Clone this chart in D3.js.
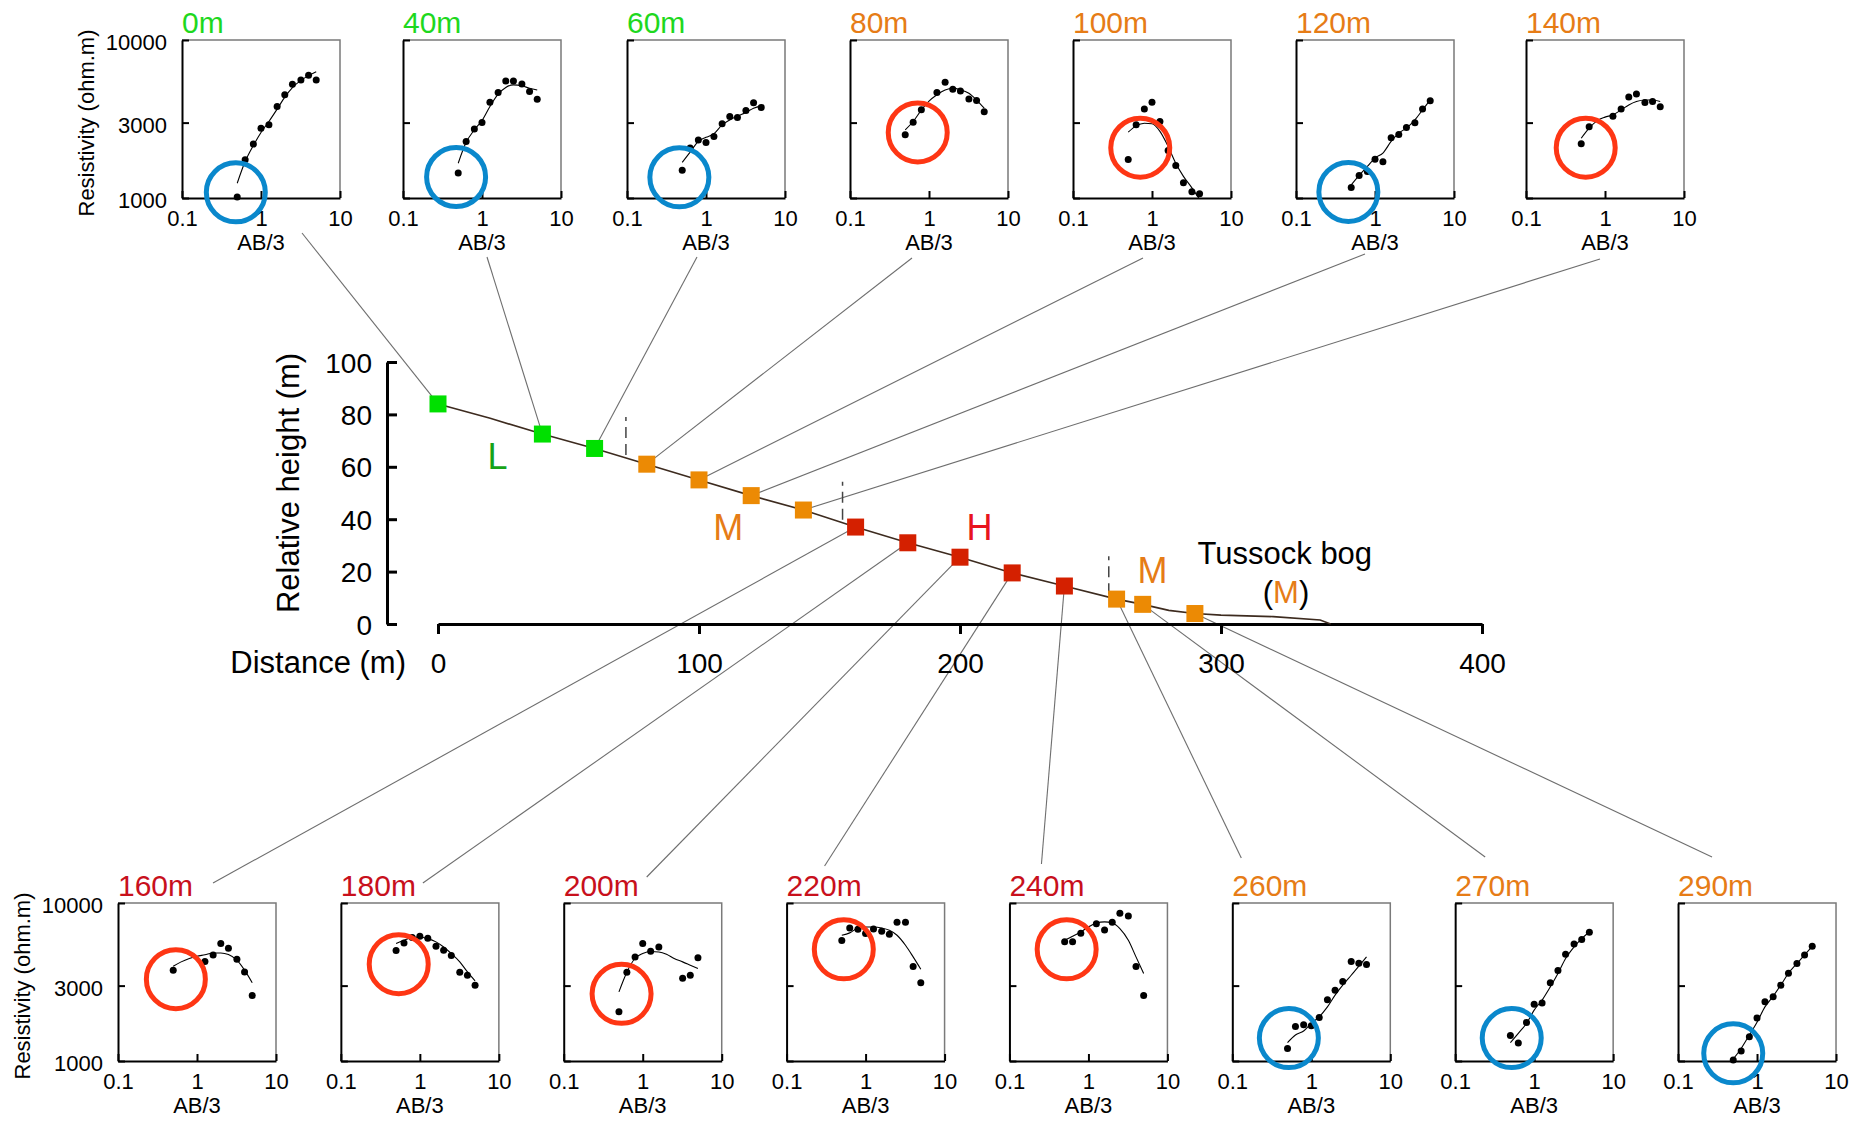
<!DOCTYPE html>
<html>
<head>
<meta charset="utf-8">
<script src="https://cdn.jsdelivr.net/npm/d3@7"></script>
<style>
  html, body { margin: 0; padding: 0; background: #fff; }
  svg { display: block; font-family: "Liberation Sans", Arial, Helvetica, sans-serif; }
</style>
</head>
<body>
<svg id="fig" width="1860" height="1121"></svg>
<script>
// ---- Survey line: stations along the slope ----
const stations = [0, 40, 60, 80, 100, 120, 140, 160, 180, 200, 220, 240, 260, 270, 290];
const surfaceHeight = [84, 72.5, 67, 61, 55, 49, 43.5, 37, 31, 25.5, 19.5, 14.5, 9.5, 7.5, 4];
const zone = ["L", "L", "L", "M", "M", "M", "M", "H", "H", "H", "H", "H", "M", "M", "M"];

// ground surface profile (distance m, relative height m)
const profileDist   = [0, 20, 40, 60, 80, 100, 120, 140, 160, 180, 200, 220, 240, 260, 270, 280, 290, 300, 320, 338, 342];
const profileHeight = [84, 78.5, 72.5, 67, 61, 55, 49, 43.5, 37, 31, 25.5, 19.5, 14.5, 9.5, 7.5, 5.2, 4, 3.4, 2.8, 1.5, 0];

// zone boundaries (distance m)
const boundaries = [72, 155, 257];

// axis ticks
const distTicks = [0, 100, 200, 300, 400];
const heightTicks = [0, 20, 40, 60, 80, 100];
const abTicks = [0.1, 1, 10];
const rhoTicks = [1000, 3000, 10000];

// ---- Vertical electrical soundings ----
// electrode half-spacing AB/3 (m)
const abSpacing = [0.5, 0.63, 0.8, 1, 1.26, 1.6, 2, 2.5, 3.2, 4, 5];

// apparent resistivity (ohm.m), observed
const obs0   = [1014, 1746, 2193, 2768, 2904, 3793, 4498, 5248, 5585, 5984, 5585];
const obs40  = [1438, 2280, 2729, 3006, 4037, 4645, 5508, 5508, 5272, 4721, 4217];
const obs60  = [1496, 2070, 2325, 2247, 2450, 2946, 3281, 3230, 3578, 4000, 3737];
const obs80  = [2512, 3020, 3614, null, 4645, 5400, 4880, 4760, 4240, 4140, 3510];
const obs100 = [1754, 2904, 3664, 4037, 3048, 2000, 1607, 1250, 1096, 1064, null];
const obs120 = [1167, 1390, 1473, 1762, 1695, 2404, 2523, 2793, 2992, 3664, 4120];
const obs140 = [2203, 2825, null, null, 3296, 3664, 4365, 4560, 4018, 4080, 3775];
const obs160 = [3758, null, null, null, 4256, 4695, 5535, 5176, 4406, 3664, 2600];
const obs180 = [5000, 5585, 6040, 6150, 5980, 5320, 5020, 4645, 3650, 3490, 3020];
const obs200 = [2050, 3650, 4560, 5535, 4950, 5270, null, null, 3342, 3490, 4498];
const obs220 = [5780, 6950, 6820, 6400, 6855, 6620, 6340, 7550, 7550, 3960, 3125];
const obs240 = [5675, 5675, 6430, null, 7400, 6750, 7550, 8610, 8280, 3960, 2600];
const obs260 = [1202, 1655, 1695, 1671, 1888, 2440, 2806, 3185, 4256, 4160, 4080];
const obs270 = [1452, 1300, 1754, 2290, 2325, 3126, 3740, 4740, 5510, 5870, 6530];
const obs290 = [1015, 1157, 1425, 1870, 2370, 2548, 3020, 3597, 4140, 4695, 5320];

// apparent resistivity (ohm.m), layered-model response
const fit0   = [1240, 1700, 2150, 2600, 3050, 3650, 4350, 5000, 5550, 5950, 6300];
const fit40  = [1660, 2250, 2700, 3090, 3790, 4540, 5010, 5200, 5130, 4950, 4830];
const fit60  = [1680, 1950, 2280, 2420, 2550, 2900, 3120, 3300, 3480, 3700, 3830];
const fit80  = [2700, 3050, 3600, 4100, 4500, 4830, 4950, 4850, 4600, 4170, 3700];
const fit100 = [2610, 2860, 2975, 2950, 2640, 2120, 1660, 1370, 1160, 980, null];
const fit120 = [1210, 1390, 1585, 1790, 1925, 2280, 2575, 2770, 3120, 3610, 4180];
const fit140 = [2390, 2770, 3090, 3250, 3360, 3610, 3880, 4080, 4170, 4170, 4080];
const fit160 = [3980, 4240, 4450, 4600, 4700, 4830, 4830, 4720, 4350, 3760, 3130];
const fit180 = [5535, 5810, 6040, 6080, 5950, 5675, 5270, 4790, 4240, 3660, 3215];
const fit200 = [2740, 3650, 4470, 4790, 4930, 4900, 4740, 4450, 4240, 4040, 3850];
const fit220 = [6250, 6470, 6950, 7050, 7050, 6950, 6720, 6250, 5400, 4560, 3810];
const fit240 = [5810, 6150, 6560, 7050, 7480, 7590, 7480, 6890, 5810, 4560, 3580];
const fit260 = [1306, 1460, 1547, 1730, 1905, 2200, 2610, 3020, 3490, 3980, 4560];
const fit270 = [1306, 1496, 1730, 2100, 2430, 2945, 3580, 4450, 5270, 5950, 6550];
const fit290 = [1030, 1200, 1460, 1760, 2200, 2570, 3020, 3590, 4140, 4700, 5320];

// near-surface response highlighted in each sounding (B = low, R = high)
const ringAB   = [0.48, 0.47, 0.46, 0.72, 0.71, 0.46, 0.57, 0.54, 0.54, 0.54, 0.53, 0.53, 0.52, 0.52, 0.50];
const ringRho  = [1086, 1358, 1351, 2600, 2080, 1092, 2080, 3296, 4100, 2660, 5090, 5090, 1397, 1397, 1118];
const ringKind = ["B", "B", "B", "R", "R", "B", "R", "R", "R", "R", "R", "R", "B", "B", "B"];

const observed = [obs0, obs40, obs60, obs80, obs100, obs120, obs140, obs160, obs180, obs200, obs220, obs240, obs260, obs270, obs290];
const fitted   = [fit0, fit40, fit60, fit80, fit100, fit120, fit140, fit160, fit180, fit200, fit220, fit240, fit260, fit270, fit290];

// ---- styling ----
const squareFill = { L: "#00e000", M: "#ec8a04", H: "#d42000" };
const labelFill  = { L: "#1ed81e", M: "#e67c16", H: "#c8101c" };
const ringStroke = { B: "#0a88cc", R: "#fe3614" };

// ---- layout ----
const PANEL = 158;
const topLefts = [182, 403, 627, 850, 1073, 1296, 1526];
const panelBox = stations.map((s, i) => i < 7
  ? { L: topLefts[i], T: 40, row: 0 }
  : { L: 118 + (i - 7) * 222.86, T: 903, row: 1 });
// where each leader line leaves its sounding panel
const leaderOffset = [[120, 35], [84, 59], [70, 59], [62, 60], [70, 60], [69, 56], [74, 61],
                      [95, -20], [82, -20], [83, -26], [38, -37], [32, -39], [9, -45], [30, -46], [34, -46]];

const svg = d3.select("#fig");
const defs = svg.append("defs");
const gLeaders = svg.append("g");
const gMain = svg.append("g");
const gPanels = svg.append("g");

const xDist = d3.scaleLinear().domain([0, 400]).range([438, 1482]);
const yHeight = d3.scaleLinear().domain([0, 100]).range([624, 362]);

function styleAxis(sel, fontSize, width) {
  sel.attr("font-family", null).attr("font-size", null);
  sel.select(".domain").attr("stroke", "#000").attr("stroke-width", width);
  sel.selectAll(".tick line").attr("stroke", "#000").attr("stroke-width", width);
  sel.selectAll(".tick text").attr("fill", "#000").style("font-size", fontSize + "px");
}

// ---- leader lines from each sounding to its station ----
stations.forEach((s, i) => {
  const b = panelBox[i];
  const [dx, dy] = leaderOffset[i];
  const x0 = b.L + dx;
  const y0 = b.row === 0 ? b.T + PANEL + dy : b.T + dy;
  gLeaders.append("line")
    .attr("x1", x0).attr("y1", y0)
    .attr("x2", xDist(s)).attr("y2", yHeight(surfaceHeight[i]))
    .attr("stroke", "#6e6e6e").attr("stroke-width", 1.1);
});

// ---- main profile chart ----
gMain.append("g")
  .attr("transform", "translate(387,0)")
  .call(d3.axisLeft(yHeight).tickValues(heightTicks).tickSizeInner(-10).tickSizeOuter(0).tickPadding(15))
  .call(styleAxis, 28, 3)
  .call(g => g.selectAll(".tick text").attr("dy", "0.36em"));

gMain.append("g")
  .attr("transform", "translate(0,624)")
  .call(d3.axisBottom(xDist).tickValues(distTicks).tickSizeInner(10).tickSizeOuter(0).tickPadding(19))
  .call(styleAxis, 28, 3);

gMain.append("text")
  .attr("x", 406).attr("y", 673).attr("text-anchor", "end")
  .style("font-size", "31px").text("Distance (m)");

gMain.append("text")
  .attr("transform", "translate(288,483) rotate(-90)")
  .attr("text-anchor", "middle").attr("dominant-baseline", "central")
  .style("font-size", "31px").text("Relative height (m)");

const profile = profileDist.map((d, i) => [d, profileHeight[i]]);
gMain.append("path")
  .attr("d", d3.line().x(d => xDist(d[0])).y(d => yHeight(d[1]))(profile))
  .attr("fill", "none").attr("stroke", "#3d2b1f").attr("stroke-width", 1.6);

const heightAt = d3.scaleLinear().domain(profileDist).range(profileHeight);
boundaries.forEach(d => {
  const yb = yHeight(heightAt(d));
  gMain.append("line")
    .attr("x1", xDist(d)).attr("x2", xDist(d))
    .attr("y1", yb - 3).attr("y2", yb - 41)
    .attr("stroke", "#444").attr("stroke-width", 1.5)
    .attr("stroke-dasharray", "11,6");
});

gMain.selectAll("rect.station")
  .data(stations)
  .join("rect")
  .attr("class", "station")
  .attr("x", d => xDist(d) - 8.5)
  .attr("y", (d, i) => yHeight(surfaceHeight[i]) - 8.5)
  .attr("width", 17).attr("height", 17)
  .attr("fill", (d, i) => squareFill[zone[i]]);

// zone annotations
const zoneText = [
  { d: 19, h: 59, t: "L", c: "#17a317" },
  { d: 105.5, h: 32, t: "M", c: labelFill.M },
  { d: 202.5, h: 32, t: "H", c: "#e8141e" },
  { d: 268, h: 15.5, t: "M", c: labelFill.M }
];
zoneText.forEach(z => {
  gMain.append("text")
    .attr("x", xDist(z.d)).attr("y", yHeight(z.h))
    .attr("fill", z.c).style("font-size", "36px").text(z.t);
});
gMain.append("text")
  .attr("x", xDist(291)).attr("y", yHeight(23))
  .style("font-size", "31px").text("Tussock bog");
const bog = gMain.append("text")
  .attr("x", xDist(316)).attr("y", yHeight(8))
  .style("font-size", "31px");
bog.append("tspan").text("(");
bog.append("tspan").attr("fill", labelFill.M).text("M");
bog.append("tspan").text(")");

// ---- sounding panels ----
stations.forEach((s, i) => {
  const { L, T, row } = panelBox[i];
  const B = T + PANEL;
  const first = (i === 0 || i === 7);
  const xs = d3.scaleLog().domain([0.1, 10]).range([L, L + PANEL]);
  const ys = d3.scaleLog().domain([1000, 10000]).range([B, T]);
  const g = gPanels.append("g");

  const cid = "clip-" + s;
  defs.append("clipPath").attr("id", cid)
    .append("rect").attr("x", L).attr("y", T).attr("width", PANEL).attr("height", PANEL);

  g.append("path")
    .attr("d", `M${L},${T}H${L + PANEL}V${B}`)
    .attr("fill", "none").attr("stroke", "#7a7a7a").attr("stroke-width", 1.5);

  g.append("g")
    .attr("transform", `translate(0,${B})`)
    .call(d3.axisBottom(xs).tickValues(abTicks).tickFormat(d3.format("~g"))
      .tickSizeInner(-7).tickSizeOuter(0).tickPadding(12))
    .call(styleAxis, 22, 2);

  g.append("g")
    .attr("transform", `translate(${L},0)`)
    .call(d3.axisLeft(ys).tickValues(rhoTicks).tickFormat(first ? d3.format("d") : () => "")
      .tickSizeInner(-7).tickSizeOuter(0).tickPadding(15))
    .call(styleAxis, 22, 2)
    .call(g2 => g2.selectAll(".tick text").attr("dy", "0.45em"));

  g.append("text")
    .attr("x", L + PANEL / 2).attr("y", B + 52).attr("text-anchor", "middle")
    .style("font-size", "22px").text("AB/3");

  g.append("text")
    .attr("x", L).attr("y", T - 7)
    .attr("fill", labelFill[zone[i]]).style("font-size", "30px")
    .text(s + "m");

  if (first) {
    g.append("text")
      .attr("transform", `translate(${L - 96},${T + PANEL / 2 + 4}) rotate(-90)`)
      .attr("text-anchor", "middle").attr("dominant-baseline", "central")
      .style("font-size", "22px").text("Resistivity (ohm.m)");
  }

  const fitPts = abSpacing.map((a, k) => [a, fitted[i][k]]);
  g.append("path")
    .attr("clip-path", `url(#${cid})`)
    .attr("d", d3.line().defined(d => d[1] != null)
      .x(d => xs(d[0])).y(d => ys(d[1])).curve(d3.curveMonotoneX)(fitPts))
    .attr("fill", "none").attr("stroke", "#000").attr("stroke-width", 1.1);

  const obsPts = abSpacing.map((a, k) => [a, observed[i][k]]).filter(d => d[1] != null);
  g.selectAll("circle.obs")
    .data(obsPts)
    .join("circle")
    .attr("class", "obs")
    .attr("cx", d => xs(d[0])).attr("cy", d => ys(d[1]))
    .attr("r", 3.5).attr("fill", "#000");

  g.append("circle")
    .attr("cx", xs(ringAB[i])).attr("cy", ys(ringRho[i]))
    .attr("r", 29.5).attr("fill", "none")
    .attr("stroke", ringStroke[ringKind[i]]).attr("stroke-width", 5);
});
</script>
</body>
</html>
